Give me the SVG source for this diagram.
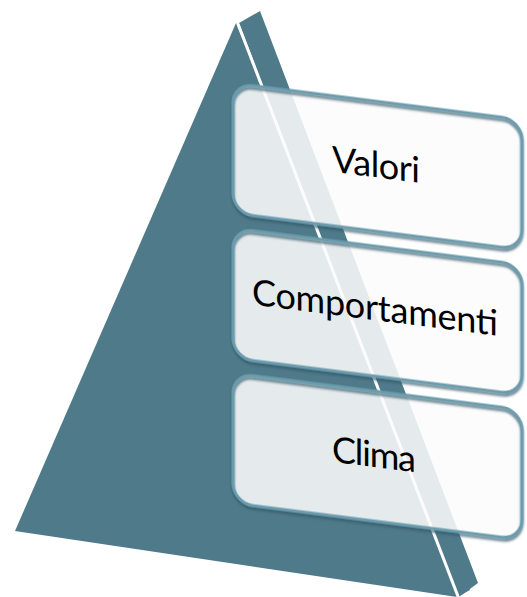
<svg xmlns="http://www.w3.org/2000/svg" width="527" height="597" viewBox="0 0 527 597">
  <defs>
    <style>
      .face { fill: #4e7a8a; }
      .gap { stroke: #ffffff; stroke-width: 3; fill: none; }
      .boxfill { fill: #fbfcfc; fill-opacity: 0.87; }
      .boxline { fill: none; stroke: #6b9cad; stroke-width: 3; }
      .label { font-family: Lato, "Open Sans", "Liberation Sans", sans-serif; font-size: 36px; fill: #000000; text-anchor: middle; }
    </style>
    <filter id="shadow" x="-10%" y="-10%" width="120%" height="130%">
      <feDropShadow dx="0" dy="2.5" stdDeviation="1.2" flood-color="#2f5666" flood-opacity="0.8"/>
    </filter>
  </defs>
  <rect width="527" height="597" fill="#ffffff"/>
  <g id="pyramid">
    <polygon class="face" points="236,23 15,531 457,597 470,590"/>
    <polygon class="face" points="239,23 260,11 478,583 459,597"/>
    <line class="gap" x1="238" y1="24" x2="459" y2="599"/>
  </g>
  <g id="connectors"/>
  <g transform="matrix(1 0.127 0 1 0 -29.46)">
    <g id="node-valori">
      <rect class="boxfill" x="233" y="83" width="289" height="130" rx="20"/>
      <rect class="boxline" x="233" y="83" width="289" height="130" rx="20" filter="url(#shadow)"/>
      <text class="label" x="376" y="159" textLength="88" lengthAdjust="spacing">Valori</text>
    </g>
    <g id="node-comportamenti">
      <rect class="boxfill" x="233" y="228" width="289" height="130" rx="20"/>
      <rect class="boxline" x="233" y="228" width="289" height="130" rx="20" filter="url(#shadow)"/>
      <text class="label" x="375" y="302" textLength="246" lengthAdjust="spacing">Comportamenti</text>
    </g>
    <g id="node-clima">
      <rect class="boxfill" x="233" y="373" width="289" height="130" rx="20"/>
      <rect class="boxline" x="233" y="373" width="289" height="130" rx="20" filter="url(#shadow)"/>
      <text class="label" x="374" y="449" textLength="84" lengthAdjust="spacing">Clima</text>
    </g>
  </g>
</svg>
